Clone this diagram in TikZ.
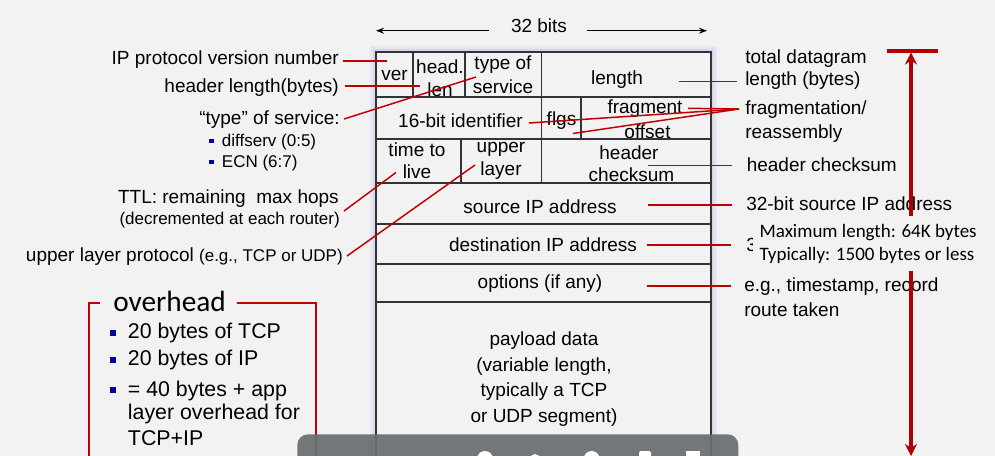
\documentclass[tikz,border=0pt]{standalone}
\usepackage{fontspec}
\setmainfont{Liberation Sans}
\newfontfamily\carlito{Carlito}
\usetikzlibrary{arrows.meta}
\definecolor{bgc}{HTML}{F2F2F2}
\definecolor{redl}{HTML}{C00000}
\definecolor{redb}{HTML}{B00000}
\definecolor{tline}{HTML}{333333}
\definecolor{bul}{HTML}{0000A0}
\definecolor{glow}{HTML}{C4C4EC}
\definecolor{tbar}{HTML}{6B6E71}
\begin{document}
\begin{tikzpicture}[x=0.75pt,y=-0.75pt,
  lbl/.style={inner sep=0pt,font=\fontsize{14.25}{17}\selectfont},
  sml/.style={inner sep=0pt,font=\fontsize{12.75}{15}\selectfont},
  big/.style={inner sep=0pt,font=\fontsize{16}{19}\selectfont},
  cal/.style={inner sep=0pt,font=\carlito\fontsize{14.25}{17}\selectfont},
  grid/.style={draw=tline,line width=1.4pt},
  redline/.style={draw=redl,line width=1.1pt},
  bsq/.style={fill=bul,inner sep=0pt,minimum size=#1},
]
\useasboundingbox (0,0) rectangle (995,456);
\fill[bgc] (0,0) rectangle (995,456);

% ---------- 32 bits ----------
\node[lbl] (bits) at (539,26) {32 bits};
\coordinate (bl) at (376,30.7);
\coordinate (br) at (707,30.7);
\draw[line width=0.9pt,-{Stealth[length=6pt,width=4.5pt]}] (bits.west) ++(-22,4.7) coordinate (bla) -- (bl);
\draw[line width=0.9pt,-{Stealth[length=6pt,width=4.5pt]}] (bits.east) ++(20,4.7) coordinate (bra) -- (br);

% ---------- table glow ----------
\draw[glow,line width=5pt,opacity=0.25] (373,49) rectangle (714,470);
\draw[glow,line width=2.5pt,opacity=0.45] (375,51) rectangle (712,470);
\fill[bgc] (376,52) rectangle (711,470);

% ---------- cell texts ----------
\node[lbl] (ver) at (394.5,75) {ver};
\node[lbl] (head) at (440,66.7) {head.};
\node[lbl] (len) at (440,89.5) {len};
\node[lbl] (tos1) at (503,65) {type of};
\node[lbl] (tos2) at (503,87) {service};
\node[lbl] (length) at (617,79.5) {length};
\node[lbl] (ident) at (460.5,121) {16-bit identifier};
\node[lbl] (flgs) at (561.5,121) {flgs};
\node[lbl] (frag1) at (645,109) {fragment};
\node[lbl] (frag2) at (647.5,131.5) {offset};
\node[lbl] (ttl1t) at (417,150) {time to};
\node[lbl] (ttl2t) at (417,172) {live};
\node[lbl] (up1) at (501,149) {upper};
\node[lbl] (up2) at (501,171) {layer};
\node[lbl] (hc1t) at (629,152.5) {header};
\node[lbl] (hc2t) at (631.5,175) {checksum};
\node[lbl] (src) at (540,206.7) {source IP address};
\node[lbl] (dst) at (543,244.3) {destination IP address};
\node[lbl] (opt) at (540,283.3) {options (if any)};
\node[lbl] (pl1) at (544,340.7) {payload data};
\node[lbl] (pl2) at (544,366.7) {(variable length,};
\node[lbl] (pl3) at (544,391.7) {typically a TCP};
\node[lbl] (pl4) at (544,417.3) {or UDP segment)};

% ---------- grid ----------
\draw[grid] (376,470) -- (376,52) -- (711,52) -- (711,470);
\draw[grid] (376,96.7) -- (711,96.7);
\draw[grid] (376,139.3) -- (711,139.3);
\draw[grid] (376,183.3) -- (711,183.3);
\draw[grid] (376,223.7) -- (711,223.7);
\draw[grid] (376,263.7) -- (711,263.7);
\draw[grid] (376,301.7) -- (711,301.7);
\draw[grid] (413.3,52) -- (413.3,96.7);
\draw[grid] (465.3,52) -- (465.3,96.7);
\draw[grid] (541.5,52) -- (541.5,183.3);
\draw[grid] (580.7,96.7) -- (580.7,139.3);
\draw[grid] (460.7,139.3) -- (460.7,183.3);

% ---------- left labels ----------
\node[lbl,anchor=east] (ipv) at (339,59.3) {IP protocol version number};
\node[lbl,anchor=east] (hl) at (339,88) {header length(bytes)};
\node[lbl,anchor=east] (tos) at (340,120) {“type” of service:};
\node[sml,anchor=west] (diff) at (221.7,141.7) {diffserv (0:5)};
\node[sml,anchor=west] (ecn) at (221.7,162.7) {ECN (6:7)};
\node[bsq=3.5pt] (b1) at (211.3,141) {};
\node[bsq=3.5pt] (b2) at (211.3,162) {};
\node[lbl,anchor=east] (ttl) at (339,199) {TTL: remaining\ \ max hops};
\node[sml,anchor=east] (decr) at (340,220) {(decremented at each router)};
\node[anchor=east,inner sep=0pt] (ulp) at (343,256.7) {\fontsize{14.25}{17}\selectfont upper layer protocol \fontsize{12.75}{15}\selectfont(e.g., TCP or UDP)};

% ---------- right labels ----------
\node[lbl,anchor=west] (tdl1) at (745,58.3) {total datagram};
\node[lbl,anchor=west] (tdl2) at (745,81) {length (bytes)};
\node[lbl,anchor=west] (fra1) at (745,110) {fragmentation/};
\node[lbl,anchor=west] (fra2) at (745,133.3) {reassembly};
\node[lbl,anchor=west] (hcl) at (746.5,165) {header checksum};
\node[lbl,anchor=west] (srcl) at (746,203.3) {32-bit source IP address};
\begin{scope}
\clip (740,230) rectangle (752.5,260);
\node[lbl,anchor=west] (dstl) at (746,245) {3};
\end{scope}
\node[lbl,anchor=west] (optl1) at (744,286.7) {e.g., timestamp, record};
\node[lbl,anchor=west] (optl2) at (744,309.3) {route taken};

% ---------- red connectors ----------
\coordinate (v1) at (343,61);   \coordinate (v2) at (387,61);
\coordinate (h1) at (345,86);   \coordinate (h2) at (420,86);
\coordinate (t1) at (344,119);  \coordinate (t2) at (476,77);
\coordinate (tt1) at (344,211); \coordinate (tt2) at (396,172.5);
\coordinate (u1) at (347,256);  \coordinate (u2) at (475,165);
\coordinate (l1) at (679,81.7); \coordinate (l2) at (737,81.7);
\coordinate (fr) at (739,109);
\coordinate (fa) at (688,108.3);
\coordinate (fb) at (529,123);
\coordinate (fc) at (573,133.5);
\coordinate (c1) at (648,165.5); \coordinate (c2) at (732,165.5);
\coordinate (s1) at (648,205);   \coordinate (s2) at (732,205);
\coordinate (d1) at (647,245);   \coordinate (d2) at (731,245);
\coordinate (o1) at (647,286);   \coordinate (o2) at (731,286);
\draw[redline] (v1) -- (v2);
\draw[redline] (h1) -- (h2);
\draw[redline] (t1) -- (t2);
\draw[redline] (tt1) -- (tt2);
\draw[redline] (u1) -- (u2);
\draw[redline] (l1) -- (l2);
\draw[redline] (fa) -- (fr);
\draw[redline] (fb) -- (fr);
\draw[redline] (fc) -- (fr);
\draw[redline] (c1) -- (c2);
\draw[redline] (s1) -- (s2);
\draw[redline] (d1) -- (d2);
\draw[redline] (o1) -- (o2);

% ---------- big red arrow ----------
\coordinate (bar1) at (887,51);
\coordinate (bar2) at (938,51);
\coordinate (atop) at (911,52.5);
\coordinate (abot) at (911,456);
\draw[redb,line width=3pt] (bar1) -- (bar2);
\draw[redb,line width=3pt,{Stealth[length=9pt,width=9pt]}-{Stealth[length=9pt,width=9pt]}] (atop) -- (abot);

% ---------- overlay note ----------
\fill[bgc] (757,216) rectangle (988,271);
\node[cal,anchor=west] (max1) at (759.3,232.3) {Maximum length: 64K bytes};
\node[cal,anchor=west] (max2) at (759.3,255.7) {Typically: 1500 bytes or less};

% ---------- overhead box ----------
\draw[redl,line width=1.5pt] (100,303.3) -- (89.3,303.3) -- (89.3,470);
\draw[redl,line width=1.5pt] (236.7,303.3) -- (315.7,303.3) -- (315.7,470);
\node[inner sep=0pt,anchor=west,font=\carlito\fontsize{22}{26}\selectfont] (ovh) at (113,301.7) {overhead};
\node[bsq=4.5pt] (ob1) at (113.3,333.3) {};
\node[bsq=4.5pt] (ob2) at (113.3,359.5) {};
\node[bsq=4.5pt] (ob3) at (113.3,390) {};
\node[big,anchor=west] (o1t) at (127.7,333.3) {20 bytes of TCP};
\node[big,anchor=west] (o2t) at (127.7,360) {20 bytes of IP};
\node[big,anchor=west] (o3t) at (127.7,390.7) {= 40 bytes + app};
\node[big,anchor=west] (o4t) at (127.7,414) {layer overhead for};
\node[big,anchor=west] (o5t) at (127.7,438.3) {TCP+IP};

% ---------- viewer toolbar ----------
\begin{scope}
\clip (0,0) rectangle (995,456);
\fill[tbar,fill opacity=0.93,rounded corners=8pt] (297.3,434.3) rectangle (738.3,470);
\fill[white] (485,459) circle (8);
\fill[white] (535,459) circle (5);
\fill[white] (591.7,459) circle (8);
\fill[white,rounded corners=1.5pt] (639,451) rectangle (651,470);
\fill[white] (686,451) rectangle (700,470);
\end{scope}
\end{tikzpicture}
\end{document}
